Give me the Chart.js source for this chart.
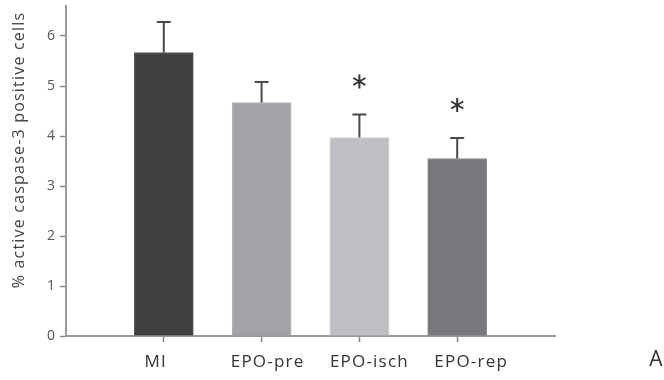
<!DOCTYPE html>
<html>
<head>
<meta charset="utf-8">
<script src="https://cdn.jsdelivr.net/npm/chart.js@4.4.1/dist/chart.umd.min.js"></script>
<style>
  html, body { margin: 0; padding: 0; background: #ffffff; }
  #wrap { width: 664px; height: 380px; position: relative; }
</style>
</head>
<body>
<div id="wrap"><canvas id="chart" width="664" height="380"></canvas></div>
<script>
// Groups and measured values (mean and SD of % active caspase-3 positive cells)
const categories = ['MI', 'EPO-pre', 'EPO-isch', 'EPO-rep'];
const means = [5.67, 4.67, 3.97, 3.55];
const sds = [0.61, 0.41, 0.46, 0.41];
const significant = [false, false, true, true];
const yTicks = [0, 1, 2, 3, 4, 5, 6];
const yTitle = '% active caspase-3 positive cells';
const panelLetter = 'A';

const barColors = ['#404040', '#a2a3a7', '#bebfc3', '#77787c'];
const barBorders = ['#5a5a5a', '#b4b5b8', '#cfd0d3', '#8a8b8e'];
const FONT = '"Open Sans", "DejaVu Sans", sans-serif';
// small horizontal nudges of the group labels relative to their tick
const labelNudge = [-8, 6, 10, 14];

// Upward-only error bars with caps, plus significance asterisks
const errorBars = {
  id: 'errorBars',
  afterDatasetsDraw(chart) {
    const ctx = chart.ctx;
    const xs = chart.scales.x, ys = chart.scales.y;
    ctx.save();
    means.forEach((m, i) => {
      const x = xs.getPixelForValue(i);
      const yTop = ys.getPixelForValue(m);
      const yErr = ys.getPixelForValue(m + sds[i]);
      ctx.strokeStyle = '#4a4a4a';
      ctx.lineWidth = 2;
      ctx.beginPath();
      ctx.moveTo(x, yTop);
      ctx.lineTo(x, yErr);
      ctx.moveTo(x - 7, yErr);
      ctx.lineTo(x + 7, yErr);
      ctx.stroke();
      if (significant[i]) {
        const cy = yErr - 33;
        const r = 7;
        ctx.strokeStyle = '#333333';
        ctx.lineWidth = 2;
        ctx.beginPath();
        for (let k = 0; k < 3; k++) {
          const a = Math.PI / 2 + k * Math.PI / 3;
          ctx.moveTo(x + r * Math.cos(a), cy + r * Math.sin(a));
          ctx.lineTo(x - r * Math.cos(a), cy - r * Math.sin(a));
        }
        ctx.stroke();
      }
    });
    ctx.restore();
  }
};

// Group labels, rotated y-axis title and panel letter
const annotations = {
  id: 'annotations',
  afterDraw(chart) {
    const ctx = chart.ctx;
    const xs = chart.scales.x;

    ctx.save();
    ctx.fillStyle = '#333333';
    ctx.font = '17px ' + FONT;
    ctx.letterSpacing = '1.2px';
    ctx.textAlign = 'center';
    ctx.textBaseline = 'middle';
    categories.forEach((c, i) => {
      ctx.fillText(c, xs.getPixelForValue(i) + labelNudge[i], 362);
    });
    ctx.restore();

    ctx.save();
    ctx.fillStyle = '#444444';
    ctx.font = '16px ' + FONT;
    ctx.letterSpacing = '1.2px';
    ctx.textAlign = 'center';
    ctx.textBaseline = 'middle';
    ctx.translate(19, 150);
    ctx.rotate(-Math.PI / 2);
    ctx.fillText(yTitle, 0, 0);
    ctx.restore();

    ctx.save();
    ctx.fillStyle = '#333333';
    ctx.font = '21px ' + FONT;
    ctx.textAlign = 'center';
    ctx.textBaseline = 'middle';
    ctx.fillText(panelLetter, 656, 360);
    ctx.restore();
  }
};

new Chart(document.getElementById('chart'), {
  type: 'bar',
  data: {
    datasets: [{
      data: means.map((m, i) => ({ x: i, y: m })),
      backgroundColor: barColors,
      borderColor: barBorders,
      borderWidth: 1,
      borderSkipped: 'bottom',
      barThickness: 59
    }]
  },
  options: {
    responsive: false,
    animation: false,
    devicePixelRatio: 1,
    layout: { padding: { top: 6, right: 109, left: 0, bottom: 0 } },
    plugins: { legend: { display: false }, tooltip: { enabled: false } },
    scales: {
      x: {
        type: 'linear',
        min: -1,
        max: 4,
        offset: false,
        afterBuildTicks(scale) { scale.ticks = categories.map((c, i) => ({ value: i })); },
        afterFit(scale) { scale.height = 44; },
        grid: { drawOnChartArea: false, offset: false, tickLength: 6, tickColor: '#888888', tickWidth: 1.5 },
        border: { color: '#9a9a9a', width: 2 },
        ticks: { display: false }
      },
      y: {
        min: 0,
        max: 6.6,
        afterBuildTicks(scale) { scale.ticks = yTicks.map(v => ({ value: v })); },
        afterFit(scale) { scale.width = 66; scale.paddingTop = 0; scale.paddingBottom = 0; },
        grid: { drawOnChartArea: false, tickLength: 6, tickColor: '#888888', tickWidth: 1.5 },
        border: { color: '#9a9a9a', width: 2 },
        ticks: {
          padding: 5,
          color: '#555555',
          font: { family: FONT, size: 14 }
        }
      }
    }
  },
  plugins: [errorBars, annotations]
});
</script>
</body>
</html>
